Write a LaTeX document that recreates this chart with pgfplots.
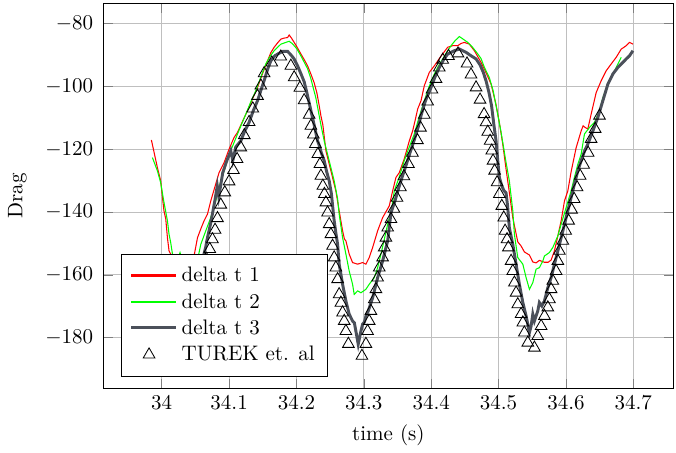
\documentclass[border=0pt]{standalone}
\usepackage{pgfplots}
\pgfplotsset{compat=1.18}
\definecolor{dtthree}{RGB}{75,80,90}
\definecolor{dtone}{RGB}{255,0,0}
\definecolor{dttwo}{RGB}{0,255,0}
\pgfplotsset{
  longline/.style={legend image code/.code={\draw[##1] (0cm,0.3pt) -- (0.75cm,0.3pt);}},
}
\begin{document}
\begin{tikzpicture}
\begin{axis}[
  scale only axis,
  width=271pt, height=183pt,
  xmin=33.914, xmax=34.759,
  ymin=-196, ymax=-73.7,
  xtick={34,34.1,34.2,34.3,34.4,34.5,34.6,34.7},
  xticklabels={34,34.1,34.2,34.3,34.4,34.5,34.6,34.7},
  ytick={-180,-160,-140,-120,-100,-80},
  yticklabel style={xshift=-1.5pt},
  ylabel style={yshift=2pt},
  grid=major,
  xlabel={time (s)},
  ylabel={Drag},
  legend style={at={(0.03,0.03)}, anchor=south west, inner xsep=4pt, inner ysep=4pt},
  legend cell align=left,
]
\addlegendimage{draw=dtone, line width=1.1pt, longline}
\addlegendentry{delta t 1}
\addlegendimage{draw=dttwo, line width=1.0pt, longline}
\addlegendentry{delta t 2}
\addlegendimage{draw=dtthree, line width=1.4pt, longline}
\addlegendentry{delta t 3}
\addlegendimage{only marks, mark=triangle, mark size=3.2pt, black}
\addlegendentry{TUREK et. al}
\addplot[dtone, line width=0.5pt, forget plot] table {
33.9847 -117.1
33.9936 -125.9
33.9985 -130.1
34.0011 -135.4
34.0034 -139.7
34.0060 -142.2
34.0085 -148.2
34.0109 -152.4
34.0149 -154.0
34.0223 -154.6
34.0312 -154.3
34.0372 -153.7
34.0431 -154.3
34.0480 -154.0
34.0531 -148.2
34.0580 -145.4
34.0629 -142.8
34.0679 -140.7
34.0728 -136.5
34.0802 -131.1
34.0851 -127.5
34.0926 -124.3
34.1000 -120.0
34.1074 -116.3
34.1125 -114.7
34.1199 -111.2
34.1273 -107.8
34.1348 -104.0
34.1422 -100.4
34.1496 -96.0
34.1571 -91.9
34.1620 -89.3
34.1669 -87.6
34.1724 -86.1
34.1769 -85.0
34.1813 -84.7
34.1868 -84.5
34.1892 -83.7
34.1924 -84.6
34.1966 -86.05
34.2013 -87.7
34.2065 -89.7
34.2117 -91.6
34.2165 -93.5
34.2214 -96.1
34.2263 -98.9
34.2303 -102.1
34.2333 -105.6
34.2363 -109.4
34.2392 -112.3
34.2437 -120.5
34.2511 -126.9
34.2585 -133.3
34.2634 -139.6
34.2685 -146.0
34.2712 -148.6
34.2734 -149.2
34.2783 -153.4
34.2833 -156.1
34.2908 -156.6
34.2982 -156.1
34.3031 -156.6
34.3080 -154.5
34.3131 -151.3
34.3205 -146.0
34.3279 -141.8
34.3377 -138.1
34.3428 -133.3
34.3477 -129.0
34.3526 -127.5
34.3600 -123.1
34.3675 -117.4
34.3725 -114.2
34.3760 -111.0
34.3800 -107.2
34.3849 -104.6
34.3898 -99.8
34.3972 -95.6
34.4047 -93.5
34.4146 -90.4
34.4245 -87.6
34.4320 -87.1
34.4394 -87.1
34.4443 -86.4
34.4492 -86.05
34.4566 -86.6
34.4641 -88.7
34.4740 -92.4
34.4814 -95.7
34.4889 -99.3
34.4963 -105.9
34.5012 -111.6
34.5062 -118.4
34.5111 -126.3
34.5160 -133.8
34.5211 -141.8
34.5285 -149.5
34.5334 -150.8
34.5383 -152.7
34.5458 -153.7
34.5508 -155.9
34.5557 -156.2
34.5606 -155.4
34.5681 -156.0
34.5736 -156.0
34.5780 -155.3
34.5829 -152.4
34.5880 -147.6
34.5929 -142.8
34.5978 -136.5
34.6028 -133.3
34.6077 -127.2
34.6151 -119.6
34.6226 -114.2
34.6255 -112.6
34.6285 -113.1
34.6325 -113.6
34.6374 -108.9
34.6449 -102.0
34.6523 -98.25
34.6597 -95.1
34.6672 -92.9
34.6746 -90.8
34.6820 -88.2
34.6895 -87.1
34.6944 -86.05
34.6994 -86.6
};
\addplot[dttwo, line width=0.5pt, forget plot] table {
33.9862 -122.7
33.9936 -126.9
33.9985 -130.7
34.0030 -136.5
34.0085 -142.8
34.0109 -147.1
34.0134 -149.8
34.0159 -153.3
34.0193 -156.2
34.0238 -154.9
34.0272 -152.9
34.0297 -154.6
34.0372 -156.2
34.0461 -156.8
34.0535 -154.9
34.0580 -150.3
34.0654 -146.0
34.0728 -141.8
34.0802 -136.5
34.0877 -130.1
34.0936 -126.3
34.1000 -121.6
34.1055 -118.9
34.1125 -115.2
34.1189 -111.9
34.1248 -108.9
34.1322 -105.0
34.1397 -101.4
34.1471 -97.1
34.1545 -92.9
34.1605 -90.6
34.1669 -88.7
34.1769 -86.6
34.1843 -86.05
34.1892 -85.7
34.1942 -86.5
34.2006 -88.1
34.2065 -90.3
34.2165 -94.4
34.2214 -97.6
34.2288 -103.7
34.2363 -112.3
34.2412 -117.4
34.2486 -123.7
34.2560 -130.1
34.2611 -135.8
34.2634 -140.7
34.2685 -148.2
34.2734 -153.4
34.2783 -158.8
34.2833 -163.0
34.2857 -166.2
34.2908 -165.1
34.2957 -165.7
34.3031 -164.6
34.3080 -163.0
34.3155 -160.9
34.3205 -157.7
34.3254 -153.4
34.3299 -149.2
34.3358 -143.5
34.3418 -138.4
34.3452 -133.3
34.3522 -129.1
34.3600 -123.7
34.3670 -119.6
34.3749 -115.2
34.3818 -110.0
34.3898 -104.6
34.3967 -100.2
34.4047 -96.1
34.4109 -93.5
34.4171 -91.3
34.4235 -89.0
34.4295 -87.1
34.4354 -85.5
34.4418 -84.2
34.4473 -85.0
34.4543 -86.05
34.4607 -87.4
34.4691 -89.7
34.4740 -91.2
34.4790 -94.0
34.4864 -97.3
34.4919 -101.4
34.4963 -106.2
34.5037 -114.6
34.5111 -124.2
34.5160 -130.1
34.5211 -139.6
34.5235 -147.1
34.5285 -154.5
34.5360 -156.6
34.5409 -160.9
34.5458 -164.6
34.5508 -162.5
34.5557 -158.2
34.5606 -157.7
34.5657 -155.6
34.5681 -154.0
34.5755 -152.9
34.5805 -151.3
34.5880 -147.6
34.5929 -143.9
34.6003 -138.6
34.6077 -133.3
34.6126 -129.0
34.6177 -124.8
34.6226 -121.6
34.6275 -115.2
34.6350 -113.1
34.6424 -111.5
34.6498 -107.8
34.6549 -103.6
34.6623 -99.3
34.6697 -96.1
34.6771 -92.9
34.6820 -90.8
};
\addplot[dtthree, line width=1.4pt, forget plot] table {
34.0550 -158.8
34.0609 -154.9
34.0654 -151.1
34.0669 -149.2
34.0728 -143.5
34.0788 -136.5
34.0825 -131.7
34.0847 -135.2
34.0906 -127.5
34.0966 -123.7
34.1025 -120.5
34.1055 -123.7
34.1100 -119.3
34.1174 -117.4
34.1233 -114.2
34.1297 -111.5
34.1359 -107.8
34.1422 -104.6
34.1471 -101.4
34.1520 -98.25
34.1575 -94.4
34.1620 -91.9
34.1679 -90.3
34.1743 -89.5
34.1798 -88.9
34.1868 -88.9
34.1917 -90.0
34.1962 -91.2
34.2017 -93.5
34.2066 -96.0
34.2115 -98.6
34.2155 -102.1
34.2189 -105.3
34.2229 -109.1
34.2263 -112.3
34.2314 -117.4
34.2340 -118.9
34.2370 -121.2
34.2412 -123.7
34.2445 -126.9
34.2486 -130.1
34.2519 -134.2
34.2537 -138.1
34.2560 -142.8
34.2585 -146.7
34.2611 -150.3
34.2634 -156.6
34.2685 -163.0
34.2734 -168.3
34.2783 -172.5
34.2833 -174.7
34.2860 -175.3
34.2882 -177.9
34.2917 -182.1
34.2957 -177.9
34.2982 -175.7
34.3009 -175.0
34.3031 -173.1
34.3066 -171.5
34.3131 -167.3
34.3205 -160.9
34.3279 -155.6
34.3354 -149.2
34.3403 -140.3
34.3462 -136.5
34.3514 -132.6
34.3566 -129.1
34.3625 -125.3
34.3685 -121.2
34.3744 -117.4
34.3804 -113.2
34.3856 -108.8
34.3915 -104.6
34.3997 -100.4
34.4057 -97.0
34.4121 -94.0
34.4183 -91.6
34.4245 -89.75
34.4343 -88.7
34.4418 -88.15
34.4517 -89.2
34.4591 -90.3
34.4666 -91.3
34.4725 -93.2
34.4770 -95.4
34.4814 -98.25
34.4859 -102.1
34.4896 -106.2
34.4929 -112.0
34.4963 -117.4
34.4988 -123.7
34.5012 -129.0
34.5048 -131.7
34.5082 -133.3
34.5111 -133.9
34.5134 -138.1
34.5160 -145.0
34.5211 -150.3
34.5260 -156.6
34.5309 -163.0
34.5360 -168.8
34.5409 -173.1
34.5458 -178.4
34.5483 -176.3
34.5508 -172.5
34.5532 -174.7
34.5582 -171.5
34.5606 -168.8
34.5642 -169.9
34.5681 -168.3
34.5731 -164.1
34.5780 -160.9
34.5829 -156.6
34.5880 -152.4
34.5929 -148.2
34.5978 -143.9
34.6028 -139.6
34.6077 -135.4
34.6126 -131.1
34.6177 -126.9
34.6226 -123.7
34.6278 -120.5
34.6325 -118.4
34.6400 -114.2
34.6474 -109.9
34.6548 -104.6
34.6623 -99.3
34.6697 -96.1
34.6771 -94.0
34.6846 -92.4
34.6895 -91.3
34.6944 -90.3
34.6994 -88.7
};
\addplot[only marks, mark=triangle, mark size=3.2pt, black, forget plot] table {
34.0639 -158.1
34.0661 -154.9
34.0713 -151.8
34.0753 -148.7
34.0792 -145.7
34.0828 -142.0
34.0877 -137.7
34.0936 -133.8
34.1000 -130.3
34.1065 -126.7
34.1119 -123.2
34.1174 -119.5
34.1226 -115.6
34.1297 -111.4
34.1352 -107.1
34.1422 -103.1
34.1471 -99.8
34.1520 -95.9
34.1634 -92.5
34.1768 -90.6
34.1917 -93.5
34.1966 -97.2
34.2051 -100.5
34.2114 -104.5
34.2189 -109.1
34.2214 -112.6
34.2251 -115.4
34.2281 -118.4
34.2318 -121.6
34.2348 -124.8
34.2363 -128.5
34.2392 -131.7
34.2415 -134.3
34.2437 -137.0
34.2462 -140.2
34.2486 -143.9
34.2511 -147.1
34.2536 -150.8
34.2560 -154.5
34.2585 -157.7
34.2611 -161.4
34.2634 -166.2
34.2660 -168.9
34.2685 -172.0
34.2709 -174.7
34.2734 -177.9
34.2771 -182.0
34.2972 -185.8
34.3031 -182.0
34.3056 -177.9
34.3080 -174.7
34.3105 -171.5
34.3155 -167.8
34.3180 -164.6
34.3205 -160.9
34.3229 -157.7
34.3279 -154.5
34.3303 -151.3
34.3328 -148.2
34.3354 -145.0
34.3403 -142.3
34.3447 -139.0
34.3492 -135.5
34.3544 -132.2
34.3596 -128.7
34.3663 -124.8
34.3722 -121.2
34.3796 -117.2
34.3841 -113.2
34.3897 -109.1
34.3948 -104.9
34.4012 -101.1
34.4071 -97.7
34.4120 -94.1
34.4171 -91.6
34.4257 -90.4
34.4398 -89.6
34.4532 -92.8
34.4591 -96.3
34.4666 -100.4
34.4725 -104.3
34.4785 -108.9
34.4814 -111.5
34.4840 -114.5
34.4874 -117.4
34.4899 -120.5
34.4918 -123.7
34.4941 -126.9
34.4978 -130.6
34.5012 -134.3
34.5048 -138.1
34.5077 -141.8
34.5097 -146.0
34.5126 -148.7
34.5146 -151.3
34.5186 -155.6
34.5211 -158.8
34.5235 -162.5
34.5260 -165.7
34.5285 -169.4
34.5334 -172.5
34.5360 -175.2
34.5383 -178.4
34.5434 -181.6
34.5532 -183.2
34.5582 -179.5
34.5632 -176.3
34.5681 -173.1
34.5731 -170.4
34.5755 -167.8
34.5780 -164.6
34.5805 -161.9
34.5854 -158.8
34.5880 -155.6
34.5903 -152.4
34.5954 -149.2
34.5996 -146.0
34.6040 -142.8
34.6085 -139.3
34.6122 -135.9
34.6166 -132.2
34.6211 -128.5
34.6263 -125.0
34.6330 -121.2
34.6374 -116.8
34.6434 -113.6
34.6498 -109.4
};
\end{axis}
\path (current bounding box.north east) ++(1.2pt,1.5pt);
\path (current bounding box.south west) ++(-0.5pt,0pt);
\end{tikzpicture}
\end{document}
